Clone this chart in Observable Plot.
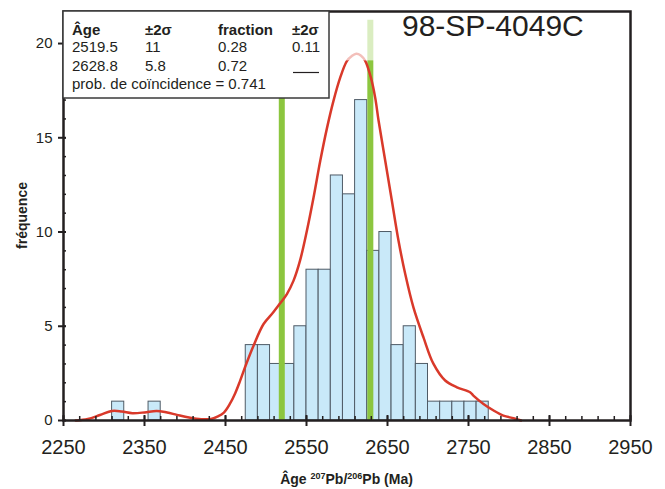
<!DOCTYPE html>
<html><head><meta charset="utf-8">
<script src="https://cdn.jsdelivr.net/npm/d3@7"></script>
<script src="https://cdn.jsdelivr.net/npm/@observablehq/plot@0.6"></script>
<style>
body{margin:0;background:#fff}
#wrap{width:665px;height:489px}
</style></head><body><div id="wrap"></div>
<script>
// ---- data ----
const sampleName = "98-SP-4049C";
const binWidth = 15;
const histStart = [2310, 2355, 2475, 2490, 2505, 2520, 2535, 2550, 2565, 2580, 2595, 2610, 2625, 2640, 2655, 2670, 2685, 2700, 2715, 2730, 2745, 2760];
const histCount = [1, 1, 4, 4, 3, 3, 5, 8, 8, 13, 12, 17, 9, 10, 4, 5, 3, 1, 1, 1, 1, 1];

const curveAge  = [2265, 2280, 2295, 2310, 2322, 2335, 2350, 2365, 2378, 2390, 2405, 2420, 2432, 2440, 2448, 2455, 2462, 2468, 2475.6, 2484.6, 2497, 2509, 2517.5, 2525.8, 2534, 2542, 2550.5, 2558.7, 2567, 2575, 2583.3, 2591.6, 2600, 2606, 2611.4, 2617, 2622.5, 2629.5, 2634.8, 2639, 2647.2, 2655.4, 2663.6, 2671.9, 2682, 2694.4, 2706.8, 2721.2, 2735.7, 2752, 2756, 2768.5, 2781, 2793, 2805.6, 2815];
const curveFreq = [0, 0.08, 0.29, 0.51, 0.48, 0.39, 0.43, 0.51, 0.42, 0.30, 0.16, 0.07, 0.08, 0.21, 0.42, 0.85, 1.45, 2.1, 3.0, 3.97, 5.12, 5.74, 6.22, 6.71, 7.42, 8.48, 10.07, 11.83, 13.78, 15.46, 16.96, 18.19, 19.08, 19.34, 19.46, 19.37, 19.08, 18.19, 17.13, 15.9, 13.78, 11.66, 9.54, 7.77, 6.0, 4.41, 3.0, 2.12, 1.76, 1.5, 1.32, 0.88, 0.53, 0.26, 0.12, 0];

const peakAge = [2519.5, 2628.8];
const peakTop = [21.23, 21.23];
const fadeBand = [{x1: 2585, x2: 2650, y1: 19.08, y2: 21.7}];

const tableHeader = ["Âge", "±2σ", "fraction", "±2σ"];
const tableAge = ["2519.5", "2628.8"];
const tableAgeErr = ["11", "5.8"];
const tableFrac = ["0.28", "0.72"];
const tableFracErr = ["0.11", null];
const probText = "prob. de coïncidence = 0.741";

const xTicks = d3.range(2250, 2951, 100);
const yTicks = d3.range(0, 21, 5);

// ---- build ----
const bins = histStart.map((s, i) => ({x1: s, x2: s + binWidth, n: histCount[i]}));
const curve = curveAge.map((a, i) => ({age: a, f: curveFreq[i]}));
const peaks = peakAge.map((a, i) => ({age: a, top: peakTop[i]}));
const ink = "#231f20";
const font = "'Liberation Sans', Arial, Helvetica, sans-serif";

const chart = Plot.plot({
  width: 665, height: 489,
  marginLeft: 63, marginRight: 35, marginTop: 11, marginBottom: 69,
  style: {fontFamily: font, color: ink, background: "white"},
  x: {domain: [2250, 2950]},
  y: {domain: [0, 21.7]},
  marks: [
    Plot.rect(bins, {x1: "x1", x2: "x2", y1: 0, y2: "n", fill: "#c9e9f9", stroke: "#4f5b66", strokeWidth: 1}),
    Plot.ruleX(peaks, {x: "age", y1: 0, y2: "top", stroke: "#8cc63f", strokeWidth: 6}),
    Plot.line(curve, {x: "age", y: "f", stroke: "#d9392a", strokeWidth: 2.5, curve: "catmull-rom"}),
    Plot.rect(fadeBand, {x1: "x1", x2: "x2", y1: "y1", y2: "y2", fill: "white", fillOpacity: 0.68}),
    Plot.axisX({ticks: d3.range(2250, 2951, 20), tickSize: 4, dy: -4, tickFormat: () => "", label: null, strokeWidth: 1.5}),
    Plot.axisX({ticks: xTicks, tickSize: 11, dy: -5, tickFormat: () => "", label: null, strokeWidth: 2}),
    Plot.axisX({ticks: xTicks, tickSize: 0, tickPadding: 19, fontSize: 20, label: null, tickFormat: d => String(d)}),
    Plot.axisY({ticks: d3.range(0, 22, 1), tickSize: 3, dx: 3, tickFormat: () => "", label: null, strokeWidth: 1.5}),
    Plot.axisY({ticks: yTicks, tickSize: 8, dx: 3, tickFormat: () => "", label: null, strokeWidth: 2}),
    Plot.axisY({ticks: yTicks, tickSize: 0, tickPadding: 11, fontSize: 15, label: null, tickFormat: d => String(d)}),
    Plot.frame({stroke: ink, strokeWidth: 2.5})
  ]
});
document.getElementById("wrap").appendChild(chart);

const svg = d3.select(chart);
// axis titles
const xt = svg.append("text").attr("x", 346.5).attr("y", 484).attr("text-anchor", "middle")
  .attr("font-family", font).attr("font-size", 14).attr("font-weight", "bold").attr("fill", ink);
xt.append("tspan").text("Âge ");
xt.append("tspan").attr("font-size", 9).attr("dy", -5).text("207");
xt.append("tspan").attr("dy", 5).text("Pb/");
xt.append("tspan").attr("font-size", 9).attr("dy", -5).text("206");
xt.append("tspan").attr("dy", 5).text("Pb (Ma)");

svg.append("text").attr("transform", "translate(27,215.5) rotate(-90)").attr("text-anchor", "middle")
  .attr("font-family", font).attr("font-size", 14).attr("font-weight", "bold").attr("fill", ink)
  .text("fréquence");

// sample name
svg.append("text").attr("x", 402).attr("y", 36).attr("text-anchor", "start").attr("font-family", font).attr("font-size", 30)
  .attr("fill", ink).text(sampleName);

// table box
const tb = svg.append("g").attr("font-family", font).attr("font-size", 15).attr("fill", ink).attr("text-anchor", "start");
tb.append("rect").attr("x", 63).attr("y", 11).attr("width", 266).attr("height", 87)
  .attr("fill", "white").attr("stroke", "#3a3a3a").attr("stroke-width", 1.5);
const colX = [72, 145, 218, 292];
const rowY = [35, 52, 71, 89];
tableHeader.forEach((h, i) => tb.append("text").attr("x", colX[i]).attr("y", rowY[0]).attr("font-weight", "bold").text(h));
tableAge.forEach((v, r) => {
  const cells = [v, tableAgeErr[r], tableFrac[r], tableFracErr[r]];
  cells.forEach((c, i) => {
    if (c !== null) tb.append("text").attr("x", colX[i]).attr("y", rowY[r + 1]).text(c);
    else tb.append("line").attr("x1", colX[i] + 1).attr("x2", colX[i] + 27).attr("y1", rowY[r + 1] + 1.5).attr("y2", rowY[r + 1] + 1.5)
      .attr("stroke", ink).attr("stroke-width", 1.2);
  });
});
tb.append("text").attr("x", colX[0]).attr("y", rowY[3]).text(probText);
</script></body></html>
